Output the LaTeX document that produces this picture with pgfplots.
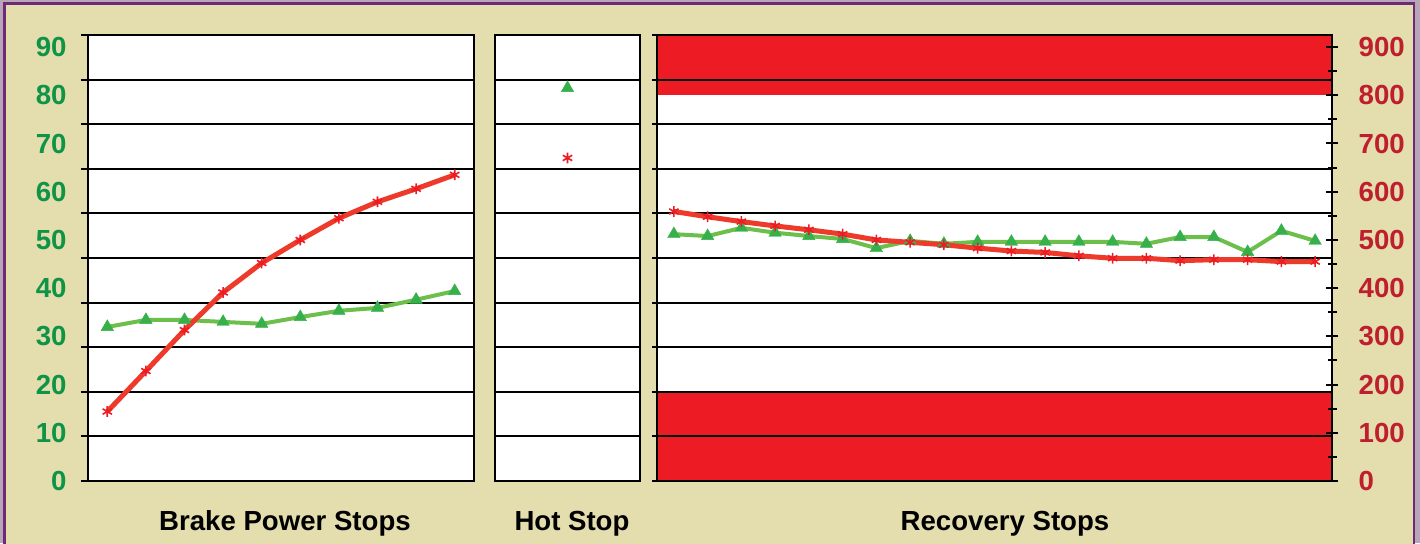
\documentclass[border=0pt]{standalone}
\usepackage{fontspec}
\setmainfont{Liberation Sans}
\usepackage{pgfplots}
\pgfplotsset{compat=1.18}

\definecolor{tan}{HTML}{E4DDAE}
\definecolor{frame}{HTML}{6E2A74}
\definecolor{glab}{HTML}{0F9347}
\definecolor{rlab}{HTML}{BE1E2D}
\definecolor{band}{HTML}{ED1C24}
\definecolor{rline}{HTML}{EE3A2A}
\definecolor{rmark}{HTML}{ED1C24}
\definecolor{gline}{HTML}{6DBF4B}
\definecolor{gmark}{HTML}{36B04A}

\newcommand{\lbl}{\fontsize{13.8}{16}\selectfont\bfseries}

\pgfplotsset{
  panel/.style={
    scale only axis, height=223pt, ymin=0, ymax=92.5,
    anchor=south west,
    xtick=\empty, ytick=\empty,
    axis background/.style={fill=white},
    axis line style={black, line width=1.2pt},
    tick style={black, line width=1pt},
    tick pos=left, tick align=outside,
    extra y ticks={0,9.25,18.5,27.75,37,46.25,55.5,64.75,74,83.25,92.5},
    extra y tick labels={,,,,,,,,,,},
    extra y tick style={grid=major, major tick length=3.5pt},
    major grid style={black, line width=1pt},
  },
  gser/.style={color=gline, line width=2pt, mark=triangle*, mark size=3.6pt,
    mark options={solid, fill=gmark, draw=gmark, line width=0.2pt}},
  rser/.style={color=rline, line width=2.5pt, mark=asterisk, mark size=2.7pt,
    mark options={solid, draw=rmark, line width=0.8pt}},
}

\begin{document}
\begin{tikzpicture}
\useasboundingbox (0,0) rectangle (710pt,271.5pt);
\fill[black!30!frame!40] (0,0) rectangle (710pt,271.5pt);
\filldraw[fill=tan, draw=frame, line width=1.2pt] (2.2pt,-3pt) rectangle (707pt,269.8pt);

% Brake Power Stops
\begin{axis}[panel, at={(44pt,31pt)}, width=193pt, xmin=0.5, xmax=10.5,
  ytick={0,10,...,90}, major tick length=0pt,
  yticklabels={0,10,20,30,40,50,60,70,80,90},
  yticklabel style={text=glab, font=\lbl, anchor=east, inner sep=0pt, xshift=-10.5pt}]
\addplot[gser] coordinates {(1,31.95)(2,33.4)(3,33.4)(4,33.0)(5,32.6)(6,34.0)(7,35.3)(8,35.9)(9,37.6)(10,39.4)};
\addplot[rser] coordinates {(1,14.4)(2,22.8)(3,31.3)(4,39.1)(5,45.2)(6,50.0)(7,54.5)(8,57.9)(9,60.6)(10,63.5)};
\end{axis}

% Hot Stop
\begin{axis}[panel, at={(247.5pt,31pt)}, width=72.5pt, xmin=0.5, xmax=1.5,
  extra y tick style={grid=major, major tick length=0pt}]
\addplot[gser, only marks] coordinates {(1,81.5)};
\addplot[rser, only marks] coordinates {(1,67.0)};
\end{axis}

% Recovery Stops: white panel and red bands
\begin{axis}[scale only axis, anchor=south west, at={(328.5pt,31pt)}, width=337.5pt, height=223pt,
  xmin=0.5, xmax=20.5, ymin=0, ymax=92.5, ticks=none, axis line style={draw=none},
  axis background/.style={fill=white}]
\addplot[fill=band, draw=none] coordinates {(0.5,0)(20.5,0)(20.5,18.5)(0.5,18.5)} -- cycle;
\addplot[fill=band, draw=none] coordinates {(0.5,80)(20.5,80)(20.5,92.5)(0.5,92.5)} -- cycle;
\end{axis}

% Recovery Stops: grid and data
\begin{axis}[panel, at={(328.5pt,31pt)}, width=337.5pt, xmin=0.5, xmax=20.5,
  axis background/.style={}, extra y tick style={grid=major, major tick length=2.5pt}]
\addplot[gser] coordinates {(1,51.2)(2,50.8)(3,52.5)(4,51.5)(5,50.8)(6,50.2)(7,48.3)(8,49.8)(9,49.2)(10,49.6)
  (11,49.6)(12,49.6)(13,49.6)(14,49.6)(15,49.2)(16,50.6)(17,50.6)(18,47.5)(19,51.9)(20,49.8)};
\addplot[rser] coordinates {(1,55.9)(2,54.8)(3,53.8)(4,52.9)(5,52.1)(6,51.2)(7,50.0)(8,49.5)(9,49.0)(10,48.3)
  (11,47.7)(12,47.4)(13,46.7)(14,46.2)(15,46.2)(16,45.7)(17,45.9)(18,45.9)(19,45.5)(20,45.5)};
\end{axis}

% right-hand scale
\begin{axis}[scale only axis, anchor=south west, at={(328.5pt,31pt)}, width=337.5pt, height=223pt,
  xmin=0.5, xmax=20.5, ymin=0, ymax=92.5,
  axis x line=none, axis y line*=right,
  axis line style={black, line width=1.2pt, -},
  tick style={black, line width=1pt},
  ytick={0,10,...,90}, yticklabels={0,100,200,300,400,500,600,700,800,900},
  minor ytick={5,15,...,85},
  tick align=center, major tick length=6.3pt, minor tick length=4.5pt,
  yticklabel style={text=rlab, font=\lbl, anchor=west, inner sep=0pt, xshift=10pt}]
\end{axis}

\node[font=\lbl, anchor=base] at (142.5pt,6.3pt) {Brake Power Stops};
\node[font=\lbl, anchor=base] at (286pt,6.3pt) {Hot Stop};
\node[font=\lbl, anchor=base] at (502.5pt,6.3pt) {Recovery Stops};
\end{tikzpicture}
\end{document}
